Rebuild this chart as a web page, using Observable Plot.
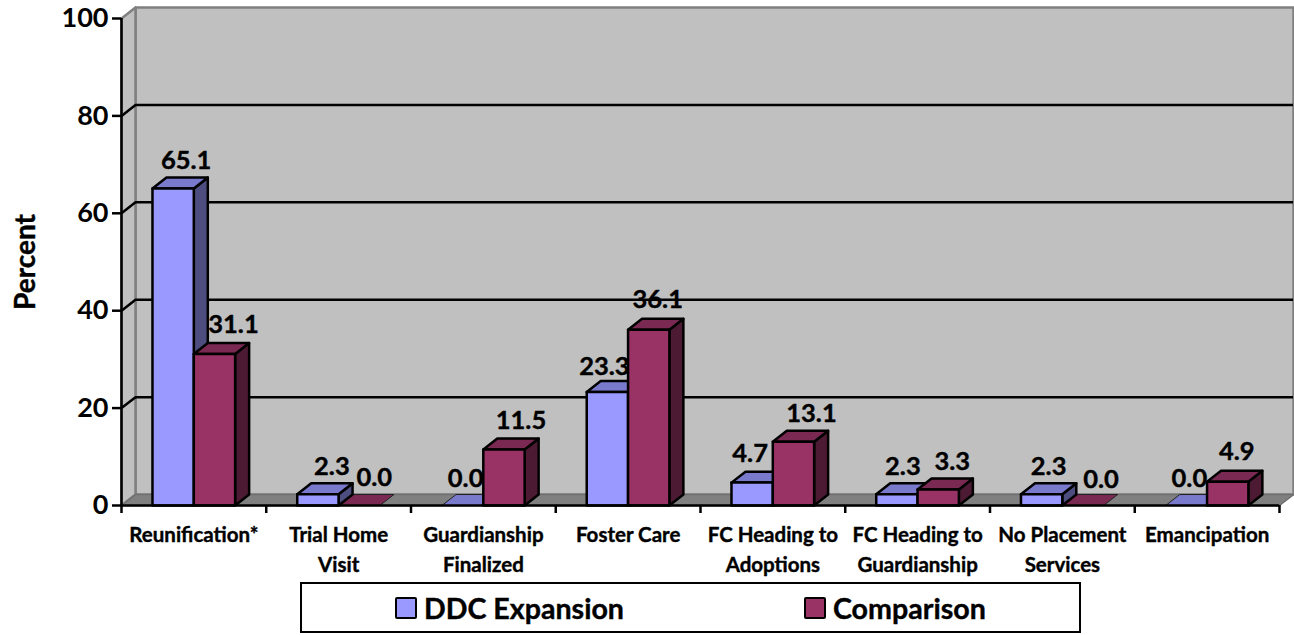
<!DOCTYPE html>
<html>
<head>
<meta charset="utf-8">
<script src="https://cdn.jsdelivr.net/npm/d3@7"></script>
<script src="https://cdn.jsdelivr.net/npm/@observablehq/plot@0.6"></script>
<style>
  html, body { margin: 0; padding: 0; background: #fff; }
  #chart svg { display: block; }
  #legend {
    position: relative; box-sizing: border-box; margin: 2px 0 0 300px;
    width: 781px; height: 51px; border: 2px solid #000; background: #fff;
    font: 700 28.6px Lato, sans-serif; color: #000; -webkit-text-stroke: 0.4px #000;
  }
  #legend .key { position: absolute; top: 8px; display: flex; align-items: center; gap: 7px; line-height: 32px; }
  #legend .swatch { width: 18px; height: 18px; border: 2px solid #000; border-radius: 2px; -webkit-text-stroke: 0; }
</style>
</head>
<body>
<div id="chart"></div>
<div id="legend"></div>
<script>
// Outcomes by placement status, percent of each group
const categories = [
  "Reunification*", "Trial Home\nVisit", "Guardianship\nFinalized", "Foster Care",
  "FC Heading to\nAdoptions", "FC Heading to\nGuardianship", "No Placement\nServices", "Emancipation"
];
const ddcExpansion = [65.1, 2.3, 0.0, 23.3, 4.7, 2.3, 2.3, 0.0];
const comparison = [31.1, 0.0, 11.5, 36.1, 13.1, 3.3, 0.0, 4.9];
const yTicks = [0, 20, 40, 60, 80, 100];

// Hand placement of the value labels relative to the bar centre, in pixels
const ddcLabelShift = [[13, -17], [14, -17], [3, -16], [-3, -14], [-2, -18], [6, -17], [7, -17], [3, -16]];
const comparisonLabelShift = [[19, -18], [15, -17], [17, -18], [9, -19], [18, -17], [14, -17], [18, -15], [9, -19]];

// Box drawing parameters, in scale units
const barOffset = 0.214, barWidth = 0.2855, depthX = 0.0967, depthY = 2.25;

const palette = {
  ddc: {front: "#9999ff", top: "#7a7acc", side: "#4d4d80"},
  comparison: {front: "#993366", top: "#7a2952", side: "#4d1a33"}
};

// Closed polygons for the three visible faces of one bar
function barFaces(i, slot, value, colors) {
  const x0 = i + barOffset + slot * barWidth, x1 = x0 + barWidth;
  const id = `${i}-${slot}`;
  const poly = (face, fill, pts) =>
    [...pts, pts[0]].map(([x, y]) => ({x, y, z: `${id}-${face}`, fill}));
  const topFace = poly("top", colors.top,
    [[x0, value], [x1, value], [x1 + depthX, value + depthY], [x0 + depthX, value + depthY]]);
  if (value === 0) return topFace;
  return [
    ...poly("side", colors.side, [[x1, 0], [x1 + depthX, depthY], [x1 + depthX, value + depthY], [x1, value]]),
    ...topFace,
    ...poly("front", colors.front, [[x0, 0], [x1, 0], [x1, value], [x0, value]])
  ];
}

// Empty categories are only a lid on the floor, drawn first with a fine outline
const flatFaces = categories.flatMap((_, i) => [
  ...(ddcExpansion[i] === 0 ? barFaces(i, 0, 0, palette.ddc) : []),
  ...(comparison[i] === 0 ? barFaces(i, 1, 0, palette.comparison) : [])
]);
const solidFaces = categories.flatMap((_, i) => [
  ...(ddcExpansion[i] > 0 ? barFaces(i, 0, ddcExpansion[i], palette.ddc) : []),
  ...(comparison[i] > 0 ? barFaces(i, 1, comparison[i], palette.comparison) : [])
]);

const labelRows = [
  ...ddcExpansion.map((value, i) => ({value, x: i + barOffset + barWidth / 2, shift: ddcLabelShift[i]})),
  ...comparison.map((value, i) => ({value, x: i + barOffset + barWidth * 1.5, shift: comparisonLabelShift[i]}))
];

const rect = (x1, y1, x2, y2) => [{x: x1, y: y1}, {x: x2, y: y1}, {x: x2, y: y2}, {x: x1, y: y2}, {x: x1, y: y1}];
const wall = rect(depthX, depthY, 8 + depthX, 100 + depthY);
const leftWall = [{x: 0, y: 0}, {x: depthX, y: depthY}, {x: depthX, y: 100 + depthY}, {x: 0, y: 100}, {x: 0, y: 0}];
const floor = [{x: 0, y: 0}, {x: 8, y: 0}, {x: 8 + depthX, y: depthY}, {x: depthX, y: depthY}, {x: 0, y: 0}];
const grid = yTicks.slice(1, -1);
const FONT = "Lato, sans-serif";
const boldText = {fontWeight: 700, fill: "#000", stroke: "#000", strokeWidth: 0.4};

const plot = Plot.plot({
  width: 1294, height: 580,
  marginLeft: 121, marginRight: 15, marginTop: 18, marginBottom: 75,
  style: {background: "#fff", fontFamily: FONT, color: "#000"},
  x: {domain: [0, 8], axis: null},
  y: {domain: [0, 100], axis: null},
  marks: [
    Plot.line(wall, {x: "x", y: "y", fill: "#c0c0c0", stroke: "#808080", strokeWidth: 2.5}),
    Plot.line(leftWall, {x: "x", y: "y", fill: "#c0c0c0", stroke: "#808080", strokeWidth: 2.5}),
    Plot.line(floor, {x: "x", y: "y", fill: "#808080", stroke: "#707070", strokeWidth: 1.5}),
    // Gridlines run along the back wall and fold down the left wall
    Plot.ruleY(grid, {y: d => d + depthY, x1: depthX, x2: 8 + depthX, stroke: "#000", strokeWidth: 2.5}),
    Plot.link(grid, {x1: 0, y1: d => d, x2: depthX, y2: d => d + depthY, stroke: "#000", strokeWidth: 2.5}),
    Plot.line(flatFaces, {x: "x", y: "y", z: "z", fill: "fill", stroke: "#222", strokeWidth: 1}),
    Plot.line(solidFaces, {
      x: "x", y: "y", z: "z", fill: "fill", stroke: "#000",
      strokeWidth: 2.5, strokeLinejoin: "round"
    }),
    Plot.ruleX([0], {y1: 0, y2: 100, stroke: "#000", strokeWidth: 2.5}),
    Plot.ruleY([0], {x1: 0, x2: 8, stroke: "#000", strokeWidth: 2.5}),
    Plot.axisY({
      ticks: yTicks, tickSize: 9, tickPadding: 4, label: null,
      fontSize: 27, fontWeight: 700, stroke: "#000", strokeWidth: 2.5, strokeOpacity: 1
    }),
    Plot.axisX({
      ticks: d3.range(0, 9), tickSize: 8, tickFormat: () => "", label: null,
      stroke: "#000", strokeWidth: 2.5, strokeOpacity: 1
    }),
    Plot.text(categories, {
      x: (_, i) => i + 0.5, y: 0, text: d => d, dy: 15, lineAnchor: "top", lineHeight: 1.46,
      fontSize: 20.5, ...boldText
    }),
    ...labelRows.map(row => Plot.text([row], {
      x: "x", y: d => d.value + depthY, text: d => d.value.toFixed(1),
      dx: row.shift[0], dy: row.shift[1],
      fontSize: 25.5, ...boldText
    })),
    Plot.text(["Percent"], {
      frameAnchor: "left", textAnchor: "middle", dx: -95, rotate: -90, text: d => d,
      fontSize: 28, ...boldText
    })
  ]
});
document.getElementById("chart").append(plot);

// Legend box below the chart
const legend = document.getElementById("legend");
[["DDC Expansion", palette.ddc.front, 93], ["Comparison", palette.comparison.front, 502]].forEach(([name, color, left]) => {
  const key = document.createElement("div");
  key.className = "key";
  key.style.left = left + "px";
  const swatch = document.createElement("span");
  swatch.className = "swatch";
  swatch.style.background = color;
  const label = document.createElement("span");
  label.textContent = name;
  key.append(swatch, label);
  legend.append(key);
});
</script>
</body>
</html>
